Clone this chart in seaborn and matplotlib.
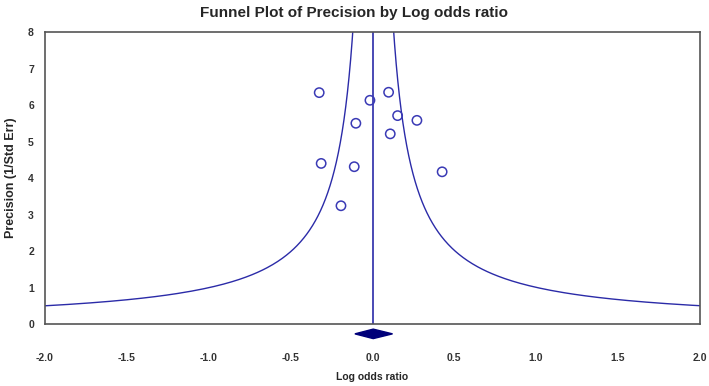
import numpy as np
import pandas as pd
import matplotlib
matplotlib.use("Agg")
import matplotlib.pyplot as plt
import seaborn as sns

# Dados (estudos)
log_odds = [-0.325, -0.015, 0.099, -0.101, 0.154, 0.272, 0.109, -0.313, -0.111, 0.426, -0.192]
precision = [6.34, 6.13, 6.35, 5.50, 5.71, 5.58, 5.21, 4.40, 4.31, 4.17, 3.24]

# Efeito combinado e intervalo (diamante)
pooled = 0.005
pooled_low = -0.107
pooled_high = 0.123
funnel_k = 1.0

x_ticks = [-2.0, -1.5, -1.0, -0.5, 0.0, 0.5, 1.0, 1.5, 2.0]
y_ticks = [0, 1, 2, 3, 4, 5, 6, 7, 8]

df = pd.DataFrame({"Log odds ratio": log_odds, "Precision": precision})

sns.set_style("white")
plt.rcParams["font.family"] = ["Liberation Sans", "DejaVu Sans"]

fig = plt.figure(figsize=(7.09, 3.86), dpi=100)
ax = fig.add_axes([0.0635, 0.1606, 0.9235, 0.7564])

blue = "#2b2ba8"

# Linhas do funil
p = np.linspace(0.45, 9, 400)
funnel = pd.DataFrame({
    "x": np.concatenate([pooled - funnel_k / p, pooled + funnel_k / p]),
    "y": np.concatenate([p, p]),
    "side": ["left"] * len(p) + ["right"] * len(p),
})
for side, g in funnel.groupby("side"):
    ax.plot(g["x"], g["y"], color=blue, lw=1.0)

ax.axvline(pooled, color=blue, lw=1.2)

sns.scatterplot(data=df, x="Log odds ratio", y="Precision", ax=ax,
                marker="o", s=45, facecolor="none", edgecolor="#3a3ab5",
                linewidth=1.1, zorder=3)

# Diamante abaixo do eixo
dy = 0.13
ax.fill([pooled_low, pooled, pooled_high, pooled],
        [-0.27, -0.27 + dy, -0.27, -0.27 - dy],
        color="#00007a", clip_on=False, zorder=4)

ax.set_xlim(-2.0, 2.0)
ax.set_ylim(0, 8)
ax.set_xticks(x_ticks)
ax.set_xticklabels([f"{v:.1f}" for v in x_ticks])
ax.set_yticks(y_ticks)

ax.tick_params(axis="x", direction="in", length=4, width=1, color="#555555",
               pad=21, labelsize=7.5, labelcolor="#333333")
ax.tick_params(axis="y", direction="out", length=2, width=1, color="#555555",
               pad=6, labelsize=7.5, labelcolor="#333333")
for lab in ax.get_xticklabels() + ax.get_yticklabels():
    lab.set_fontweight("bold")

for s in ax.spines.values():
    s.set_color("#555555")
    s.set_linewidth(1.2)

ax.set_xlabel("Log odds ratio", fontsize=7.5, fontweight="bold", labelpad=6)
ax.set_ylabel("Precision (1/Std Err)", fontsize=9, fontweight="bold", labelpad=8)
fig.suptitle("Funnel Plot of Precision by Log odds ratio", fontsize=11,
             fontweight="bold", x=0.5, y=0.985)

plt.savefig("out.png", dpi=100)
